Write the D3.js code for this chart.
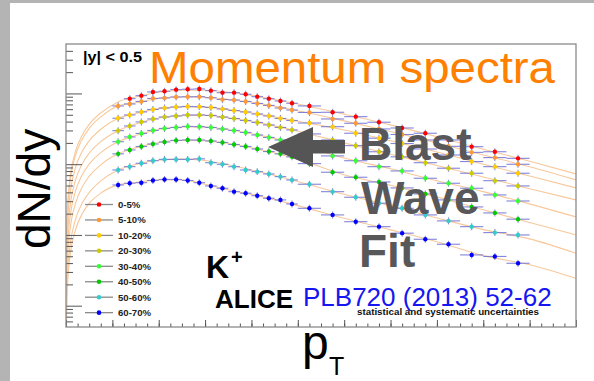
<!DOCTYPE html>
<html><head><meta charset="utf-8">
<script src="https://cdn.jsdelivr.net/npm/d3@7"></script>
<style>body{margin:0;background:#fff;}svg{display:block;}</style>
</head><body>
<script>
// ---------- data ----------
const pT = [0.225,0.275,0.325,0.375,0.425,0.475,0.525,0.575,0.625,0.675,0.725,0.775,0.825,0.875,0.925,0.975,1.05,1.15,1.25,1.35,1.45,1.55,1.65,1.75,1.85,1.95];
const centrality = ["0-5%","5-10%","10-20%","20-30%","30-40%","40-50%","50-60%","60-70%"];
const k0_5   = [null,84.4,93.1,105,107.4,113.2,114.7,115.8,109.5,102.6,102.6,97.4,90.1,84.4,78.3,72.7,66.6,54.2,47.0,39.2,32.5,27.4,22.0,17.7,15.0,12.1];
const k5_10  = [66.6,71.0,77.1,85.0,86.4,89.2,89.8,90.1,87.0,82.3,80.9,77.1,72.2,67.7,62.4,58.4,53.9,43.6,37.9,31.5,26.3,22.0,17.9,14.7,12.4,9.98];
const k10_20 = [44.6,49.7,54.8,59.4,62.4,64.4,65.5,65.1,63.4,60.4,57.5,54.8,51.3,48.1,44.3,41.5,38.2,33.9,27.4,23.3,19.6,16.4,13.5,10.9,9.23,7.45];
const k20_30 = [29.8,34.7,39.6,43.6,46.5,48.1,49.7,49.7,48.9,46.5,44.3,41.5,38.9,35.9,33.1,30.5,26.8,22.0,18.3,15.0,12.7,10.5,8.77,7.45,5.85,4.93];
const k30_40 = [20.8,24.3,27.2,30.0,32.0,33.1,34.2,33.9,33.1,31.5,30.0,28.1,25.9,23.9,22.0,20.3,16.7,13.1,11.2,9.23,8.03,6.33,5.38,4.57,3.68,3.02];
const k40_50 = [14.0,15.9,17.8,19.3,20.6,21.7,22.0,22.0,21.3,20.3,19.0,17.8,16.4,15.1,14.0,12.7,10.2,7.70,6.54,5.61,4.62,3.80,3.13,2.49,2.05,1.67];
const k50_60 = [8.29,9.23,10.3,11.2,11.7,11.7,11.7,11.9,10.5,9.98,9.23,8.29,7.85,7.28,6.67,5.99,5.21,4.09,3.41,2.81,2.38,1.92,1.58,1.31,1.08,1.00];
const k60_70 = [5.09,5.38,5.48,5.89,6.09,6.09,5.89,5.48,4.93,4.57,4.09,3.89,3.59,3.30,3.13,2.74,2.38,1.92,1.54,1.31,1.06,0.869,0.739,0.522,0.497,0.398];
const relErr = 0.12;

// blast-wave fit curves (sampled)
const fitPt = [0.001,0.003,0.006,0.01,0.02,0.04,0.07,0.1,0.15,0.225,0.3,0.4,0.5,0.6,0.7,0.8,1.0,1.2,1.4,1.6,1.8,2.0,2.2];
const fit0_5   = [0.37,1.12,2.24,3.72,7.45,14.8,25.8,36.5,53.2,76,89,104,111,111,104,94,71,51,36,24.5,16.3,11,7.3];
const fit5_10  = [0.33,0.99,1.96,3.26,6.5,13.0,22.6,32.0,46.6,66.6,74,85,89,88.5,82,75,57,41,29,20,13.5,9.2,6.0];
const fit10_20 = [0.22,0.66,1.32,2.19,4.37,8.7,15.2,21.4,31.2,44.6,52,61,64.5,64,59,53,40.4,30.5,21.4,14.9,10,6.8,4.62];
const fit20_30 = [0.146,0.44,0.88,1.46,2.92,5.8,10.1,14.3,20.9,29.8,37,45,48.5,49.3,45.4,40.2,29.3,20,13.8,9.6,6.6,4.5,3.13];
const fit30_40 = [0.102,0.305,0.61,1.02,2.04,4.06,7.07,10.0,14.6,20.8,25.5,31,33.5,33.5,30.7,27,19.1,12.2,8.6,5.85,4.1,2.75,1.8];
const fit40_50 = [0.069,0.207,0.41,0.69,1.37,2.73,4.76,6.72,9.8,14.0,17,20.3,21.8,21.5,19.6,17.1,11.8,7.1,5.05,3.45,2.27,1.5,1.0];
const fit50_60 = [0.041,0.123,0.245,0.41,0.81,1.62,2.82,3.98,5.8,8.3,9.9,11.4,11.8,11.3,9.8,8.3,5.7,3.75,2.6,1.74,1.19,0.88,0.55];
const fit60_70 = [0.029,0.088,0.175,0.29,0.58,1.15,2.0,2.8,3.9,5.1,5.5,6.0,6.0,5.2,4.35,3.75,2.6,1.72,1.18,0.8,0.51,0.38,0.244];

const xMajor = [0,0.2,0.4,0.6,0.8,1.0,1.2,1.4,1.6,1.8,2.0,2.2];
const yMajor = [0.1,1,10,100];

const series = [k0_5,k5_10,k10_20,k20_30,k30_40,k40_50,k50_60,k60_70];
const fits = [fit0_5,fit5_10,fit10_20,fit20_30,fit30_40,fit40_50,fit50_60,fit60_70];
const colors = ["#ff0000","#ff9933","#ffcc00","#cccc00","#33ff33","#00cc00","#33cccc","#0000ff"];

// ---------- drawing ----------
const W = 594, H = 381;
const svg = d3.select("body").append("svg").attr("width",W).attr("height",H);
svg.append("rect").attr("width",W).attr("height",H).attr("fill","#fff");
svg.append("rect").attr("x",0).attr("y",0).attr("width",W).attr("height",3).attr("fill","#b4b4b4");
svg.append("rect").attr("x",0).attr("y",0).attr("width",10).attr("height",H).attr("fill","#b4b4b4");

const L=66, R=576, T=44, B=327;
const x = d3.scaleLinear().domain([0,2.2]).range([L,R]);
const y = d3.scaleLog().domain([0.05,500]).range([B,T]);

svg.append("clipPath").attr("id","clip").append("rect").attr("x",L).attr("y",T).attr("width",R-L).attr("height",B-T);

// fits
const fitLine = d3.line().x(d=>x(d[0])).y(d=>y(d[1])).curve(d3.curveMonotoneX);
const gFit = svg.append("g").attr("clip-path","url(#clip)");
fits.forEach(f=>{
  gFit.append("path").attr("d",fitLine(fitPt.map((p,i)=>[p,f[i]])))
    .attr("fill","none").attr("stroke","#f7c89b").attr("stroke-width",1.1);
});

// points with error bars
const gPts = svg.append("g");
series.forEach((s,si)=>{
  s.forEach((v,i)=>{
    if(v==null) return;
    const p = pT[i], hw = p<1 ? 0.025 : 0.05;
    gPts.append("line").attr("x1",x(p-hw)).attr("x2",x(p+hw)).attr("y1",y(v)).attr("y2",y(v))
      .attr("stroke","#6f6fd6").attr("stroke-width",1.1).attr("opacity",0.85);
    gPts.append("line").attr("x1",x(p)).attr("x2",x(p)).attr("y1",y(v*(1+relErr))).attr("y2",y(v/(1+relErr)))
      .attr("stroke","#8c8cc8").attr("stroke-width",1.1);
  });
});
series.forEach((s,si)=>{
  gPts.selectAll(null).data(pT.map((p,i)=>[p,s[i]]).filter(d=>d[1]!=null)).enter()
    .append("circle").attr("cx",d=>x(d[0])).attr("cy",d=>y(d[1])).attr("r",2.2).attr("fill",colors[si]);
});

// axes
const tickCol = "#555";
const gx1 = svg.append("g").attr("transform",`translate(0,${B})`)
  .call(d3.axisBottom(x).tickValues(d3.range(0,2.2001,0.05)).tickSize(-3.5).tickSizeOuter(0).tickFormat(""));
const gx2 = svg.append("g").attr("transform",`translate(0,${B})`)
  .call(d3.axisBottom(x).tickValues(xMajor).tickSize(-7).tickSizeOuter(0).tickFormat(""));
const yMinor = [];
[0.01,0.1,1,10,100].forEach(dec=>{for(let k=2;k<=9;k++){const v=k*dec; if(v>0.05&&v<500) yMinor.push(v);} });
const gy1 = svg.append("g").attr("transform",`translate(${L},0)`)
  .call(d3.axisLeft(y).tickValues(yMinor).tickSize(-7).tickSizeOuter(0).tickFormat(""));
const gy2 = svg.append("g").attr("transform",`translate(${L},0)`)
  .call(d3.axisLeft(y).tickValues(yMajor).tickSize(-16).tickSizeOuter(0).tickFormat(""));
[gx1,gx2,gy1,gy2].forEach(g=>{g.select(".domain").remove(); g.selectAll("line").attr("stroke",tickCol).attr("stroke-width",1);});

// frame
svg.append("rect").attr("x",L).attr("y",T).attr("width",R-L).attr("height",B-T)
  .attr("fill","none").attr("stroke","#8a8a8a").attr("stroke-width",1.3);

// legend
const lg = svg.append("g");
centrality.forEach((c,i)=>{
  const ly = 204.5 + i*15.45;
  lg.append("line").attr("x1",85).attr("x2",113).attr("y1",ly).attr("y2",ly).attr("stroke","#8a8a8a").attr("stroke-width",1.3);
  lg.append("circle").attr("cx",99).attr("cy",ly).attr("r",2.3).attr("fill",colors[i]);
  lg.append("text").attr("x",118).attr("y",ly+3.4).text(c)
    .attr("font-family","Liberation Sans, Arial, sans-serif").attr("font-weight","bold").attr("font-size",9.6).attr("fill","#222");
});

const F = "Liberation Sans, Arial, Helvetica, sans-serif";
function txt(t,x0,y0,size,opts={}){
  const e = svg.append("text").attr("x",x0).attr("y",y0).text(t)
    .attr("font-family",F).attr("font-size",size).attr("fill",opts.fill||"#000");
  if(opts.bold) e.attr("font-weight","bold");
  if(opts.len) e.attr("textLength",opts.len).attr("lengthAdjust","spacingAndGlyphs");
  return e;
}
txt("|y| < 0.5",83,62,14,{bold:true,len:59});
txt("Momentum spectra",149,83,44,{fill:"#ff8000",len:406});

// arrow
svg.append("polygon").attr("points","268,147 313,127 313,140 345,140 345,153.5 313,153.5 313,167").attr("fill","#555555");
txt("Blast",359,159.5,46,{bold:true,fill:"#58585a"});
txt("Wave",361,214,46,{bold:true,fill:"#58585a"});
txt("Fit",359,266.5,46,{bold:true,fill:"#58585a"});

txt("K",206,278,32,{bold:true});
txt("+",231,264,20,{bold:true});
txt("ALICE",215,308,26,{bold:true});
txt("PLB720 (2013) 52-62",303,306,26,{fill:"#1616f0"});
txt("statistical and systematic uncertainties",357,315,8.5,{bold:true,len:182,fill:"#111"});

// axis titles
svg.append("text").attr("transform","translate(50,249) rotate(-90)").text("dN/dy")
  .attr("font-family",F).attr("font-size",46).attr("fill","#000");
txt("p",302,359,48);
txt("T",329,375,25);
</script>
</body></html>
